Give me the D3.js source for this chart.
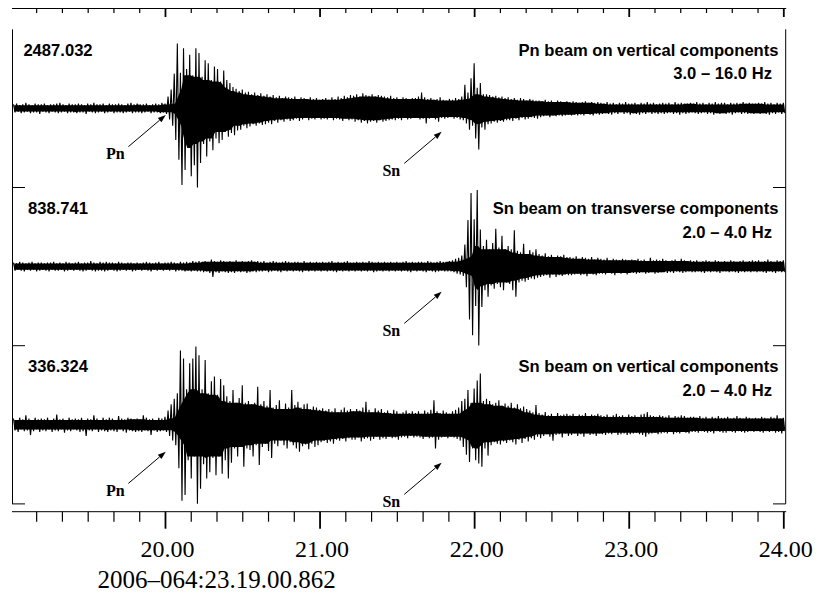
<!DOCTYPE html>
<html>
<head>
<meta charset="utf-8">
<script src="https://cdn.jsdelivr.net/npm/d3@7"></script>
<style>
  body { margin: 0; background: #fff; }
  svg { display: block; }
</style>
</head>
<body>
<svg id="chart" width="816" height="595"></svg>
<script>
// ---- Beam traces: per-sample peak (hi) and trough (lo), in % of each trace's peak amplitude ----
const sampleStart = 19.02;   // minutes
const sampleStep = 0.02;     // minutes

const pnVertHi = [
  5,6,4,5,7,5,4,6,5,5, 6,4,5,5,6,7,5,4,6,5, 5,6,5,4,6,5,7,5,5,6, 4,6,5,5,6,5,4,6,7,5,
  6,5,5,6,4,5,6,5,7,6, 15,24,44,82,45,76,50,68,42,76, 70,40,61,57,36,53,50,34,48,36,
  32,27,25,22,24,20,21,18,20,17, 19,16,18,15,17,14,16,13,15,14, 13,15,12,14,13,12,14,12,13,11,
  12,13,11,14,12,15,13,16,14,17, 16,18,15,19,17,16,18,15,17,16, 15,14,16,13,14,12,14,13,12,13,
  13,15,20,14,12,13,11,12,14,11, 10,12,11,13,12,15,30,20,38,57, 26,32,18,18,17,15,16,14,15,13,
  14,12,13,11,13,12,10,12,11,10, 10,9,11,9,10,8,10,9,8,9, 8,9,8,7,8,9,7,8,7,8,
  7,6,8,6,7,5,7,6,8,6, 6,7,5,7,6,8,6,7,5,6, 7,6,7,5,8,6,7,6,6,7, 6,8,6,7,5,7,6,8,6,7,
  7,5,7,6,7,6,8,6,7,6, 6,7,6,8,6,7,5,7,6,7
];
const pnVertLo = [
  -5,-4,-6,-5,-4,-6,-5,-5,-7,-4, -5,-6,-4,-5,-6,-5,-4,-6,-5,-5, -6,-5,-5,-7,-4,-5,-6,-5,-4,-6,
  -5,-4,-6,-5,-5,-6,-5,-4,-6,-5, -5,-6,-5,-4,-6,-5,-5,-6,-5,-7, -14,-22,-40,-65,-97,-78,-50,-86,-72,-100,
  -69,-45,-61,-42,-53,-38,-44,-40,-30,-36, -31,-34,-28,-27,-22,-25,-23,-20,-22,-19, -21,-20,-18,-20,-16,-18,-15,-17,-14,-16,
  -15,-13,-16,-14,-12,-15,-13,-14,-12,-14, -13,-14,-12,-15,-13,-14,-16,-13,-15,-14, -17,-15,-18,-16,-19,-17,-16,-18,-15,-17,
  -16,-15,-14,-15,-13,-15,-12,-14,-13,-12, -12,-14,-13,-19,-13,-12,-14,-17,-12,-13, -12,-11,-13,-12,-14,-15,-19,-27,-22,-38,
  -52,-24,-27,-20,-19,-17,-18,-16,-17,-15, -15,-16,-13,-15,-12,-14,-13,-11,-12,-13, -11,-10,-9,-11,-9,-10,-9,-10,-9,-8,
  -9,-8,-9,-8,-9,-7,-8,-9,-7,-8, -7,-6,-7,-8,-6,-7,-5,-7,-6,-8, -6,-7,-8,-6,-7,-5,-7,-6,-7,-6,
  -7,-6,-5,-7,-6,-8,-6,-7,-6,-5, -6,-7,-6,-5,-7,-6,-8,-6,-7,-6, -7,-6,-8,-6,-5,-7,-6,-7,-6,-7,
  -6,-7,-6,-7,-8,-6,-7,-5,-7,-6
];

const snTransHi = [
  5,4,6,5,4,5,6,4,5,5, 4,5,5,6,4,5,4,6,5,4, 5,6,4,5,5,7,5,4,6,5, 6,5,5,4,6,5,4,5,5,4,
  5,4,5,6,5,4,5,6,4,5, 5,6,5,4,6,5,6,5,7,6, 7,6,7,6,9,7,6,8,7,6, 7,6,8,6,7,6,7,8,6,7,
  6,7,5,6,7,6,5,6,7,6, 5,6,6,5,7,5,6,5,6,5, 6,5,6,7,5,6,5,6,7,5, 5,6,5,6,5,7,6,5,6,5,
  6,5,6,5,6,5,6,7,5,6, 5,6,6,5,7,6,5,6,7,6, 6,7,8,10,11,14,28,59,93,60, 97,47,26,34,22,30,48,24,39,22,
  26,22,46,20,18,29,16,21,18,22, 16,14,17,13,15,12,14,13,15,12, 12,11,13,10,12,11,10,12,9,11,
  10,9,11,8,10,9,8,10,9,8, 9,8,10,8,9,7,11,8,9,8, 10,8,7,8,9,7,10,8,7,8, 7,8,6,7,8,7,6,8,7,6,
  7,6,8,7,6,7,8,6,7,8, 7,8,6,7,9,7,6,8,7,8
];
const snTransLo = [
  -5,-4,-5,-6,-4,-5,-4,-6,-5,-4, -5,-6,-4,-5,-5,-4,-6,-5,-4,-5, -4,-5,-6,-5,-4,-5,-6,-5,-5,-6,
  -5,-4,-5,-6,-5,-4,-5,-4,-6,-5, -4,-5,-4,-5,-6,-4,-5,-4,-5,-4, -5,-4,-6,-5,-5,-6,-5,-6,-5,-6,
  -6,-7,-6,-8,-13,-7,-8,-6,-7,-8, -7,-8,-6,-7,-6,-8,-7,-6,-7,-6, -6,-5,-7,-6,-5,-6,-7,-5,-6,-5,
  -6,-5,-6,-7,-5,-6,-5,-6,-5,-6, -5,-6,-5,-6,-7,-5,-6,-5,-6,-5, -6,-5,-6,-5,-6,-5,-7,-6,-5,-6,
  -5,-6,-5,-6,-5,-6,-5,-6,-7,-5, -6,-5,-6,-7,-5,-6,-7,-6,-5,-6, -6,-6,-7,-9,-10,-12,-26,-67,-87,-50,
  -100,-51,-30,-38,-24,-28,-22,-26,-30,-20, -22,-30,-38,-20,-18,-19,-17,-15,-16,-14, -13,-12,-11,-14,-10,-13,-11,-12,-10,-11,
  -11,-10,-9,-11,-10,-12,-9,-10,-11,-9, -9,-10,-8,-9,-11,-8,-9,-8,-10,-8, -8,-9,-8,-7,-9,-8,-7,-9,-8,-7,
  -7,-8,-7,-8,-6,-7,-8,-7,-6,-7, -7,-6,-7,-8,-6,-7,-6,-7,-8,-6, -6,-7,-6,-7,-8,-6,-7,-6,-7,-6,
  -7,-6,-7,-8,-6,-7,-8,-6,-7,-7
];

const snVertHi = [
  8,6,9,7,12,8,6,9,7,8, 7,9,6,8,13,7,8,6,9,7, 8,7,9,6,8,7,12,8,6,9, 7,9,8,6,11,8,7,9,8,7,
  8,7,12,9,7,8,6,9,8,10, 18,26,33,40,94,84,45,78,84,99, 88,45,82,40,55,61,38,58,50,36,
  30,44,28,34,50,28,30,26,28,48, 26,30,24,44,22,25,31,20,27,22, 44,25,29,22,26,27,20,23,22,19,
  21,18,20,17,21,16,19,22,18,20, 17,20,18,22,29,19,16,21,18,20, 16,18,15,19,17,14,16,18,15,17,
  15,17,14,18,16,19,31,17,15,18, 16,14,17,19,22,30,33,44,28,46, 56,65,30,33,30,26,28,31,24,27,
  24,28,22,26,21,23,20,18,16,25, 15,13,16,12,14,11,15,12,13,14, 12,14,11,13,12,15,11,13,12,14,
  12,11,13,10,12,14,11,12,10,13, 11,12,10,13,14,16,12,11,10,12, 11,10,12,9,11,10,12,11,9,10,
  10,9,11,9,10,8,10,9,11,9, 9,10,8,9,11,9,8,10,9,8, 9,8,10,9,8,10,9,12,8,9
];
const snVertLo = [
  -7,-9,-6,-8,-7,-13,-8,-6,-9,-7, -8,-6,-9,-7,-8,-6,-10,-7,-8,-6, -7,-9,-8,-14,-7,-8,-6,-9,-7,-8,
  -9,-7,-8,-9,-6,-8,-10,-7,-8,-9, -8,-9,-7,-8,-13,-7,-9,-8,-7,-9, -14,-20,-26,-55,-96,-89,-45,-68,-40,-100,
  -81,-50,-68,-60,-42,-64,-40,-62,-45,-68, -48,-30,-40,-28,-53,-30,-32,-40,-26,-51, -28,-24,-33,-42,-24,-27,-20,-26,-30,-22,
  -26,-30,-34,-27,-25,-31,-24,-28,-26,-22, -20,-23,-21,-24,-19,-20,-18,-21,-17,-19, -19,-16,-21,-18,-17,-20,-18,-15,-19,-17,
  -18,-15,-17,-16,-19,-16,-15,-17,-14,-16, -15,-16,-18,-15,-17,-16,-30,-19,-16,-15, -17,-15,-16,-18,-20,-28,-38,-47,-30,-45,
  -49,-53,-30,-39,-26,-22,-24,-25,-21,-23, -20,-22,-25,-19,-23,-18,-21,-17,-19,-15, -17,-14,-12,-15,-20,-13,-12,-16,-11,-14,
  -13,-11,-14,-12,-15,-11,-13,-12,-14,-11, -12,-13,-11,-12,-10,-13,-12,-11,-13,-12, -11,-10,-12,-13,-15,-12,-11,-10,-12,-11,
  -10,-11,-9,-12,-10,-11,-9,-10,-11,-9, -9,-10,-8,-9,-10,-9,-11,-8,-9,-10, -10,-8,-9,-10,-8,-9,-10,-9,-8,-9,
  -8,-9,-10,-8,-9,-8,-10,-9,-11,-8
];

// ---- Trace annotations ----
const peakLabels = ["2487.032", "838.741", "336.324"];
const beamTitles = ["Pn beam on vertical components", "Sn beam on transverse components", "Sn beam on vertical components"];
const bandLabels = ["3.0 \u2013 16.0 Hz", "2.0 \u2013 4.0 Hz", "2.0 \u2013 4.0 Hz"];
const phaseTrace = [0, 0, 1, 2, 2];
const phaseNames = ["Pn", "Sn", "Sn", "Pn", "Sn"];
const phaseTimes = [20.005, 21.79, 21.79, 20.005, 21.79];

// ---- Time axis ----
const majorTicks = [20, 21, 22, 23, 24];
const majorTickLabels = ["20.00", "21.00", "22.00", "23.00", "24.00"];
const startTimeLabel = "2006\u2013064:23.19.00.862";

const traces = [
  { hi: pnVertHi, lo: pnVertLo },
  { hi: snTransHi, lo: snTransLo },
  { hi: snVertHi, lo: snVertLo }
];

// ---- Layout ----
const frameLeft = 12, frameRight = 785.7;
const panelTop = 29.3, panelH = 158.2;
const halfAmp = 79;
const arrowDrop = [6.6, 23.3, 25.1, 26.9, 37.9];   // arrow tip below trace centre, px
const arrowVec = [37.4, -31.7];
const coreWindow = 3;   // neighbours on each side used for the solid core

const svg = d3.select("#chart");
const sans = "'Liberation Sans', Arial, Helvetica, sans-serif";
const serif = "'Liberation Serif', 'Times New Roman', Times, serif";

const x = d3.scaleLinear().domain([19.0104, 24]).range([12, 783.3]);

const panels = traces.map((tr, k) => {
  const top = panelTop + k * panelH;
  const mid = top + panelH / 2;
  const y = d3.scaleLinear().domain([-100, 100]).range([mid + halfAmp, mid - halfAmp]);
  return { top, mid, y };
});

// Frame: side rails with inward ticks at each panel's lower edge
const frame = svg.append("g").attr("stroke", "#000").attr("stroke-width", 1).attr("fill", "none");
const frameBottom = panelTop + 3 * panelH;
frame.append("line").attr("x1", frameLeft + 0.5).attr("x2", frameLeft + 0.5).attr("y1", panelTop).attr("y2", frameBottom);
frame.append("line").attr("x1", frameRight).attr("x2", frameRight).attr("y1", panelTop).attr("y2", frameBottom);
panels.forEach(p => {
  const yb = p.top + panelH;
  frame.append("line").attr("x1", frameLeft).attr("x2", frameLeft + 13).attr("y1", yb).attr("y2", yb);
  frame.append("line").attr("x1", frameRight - 12.7).attr("x2", frameRight).attr("y1", yb).attr("y2", yb);
});

// Waveforms: dense core (smallest swing among neighbouring samples) plus the full wiggle
traces.forEach((tr, k) => {
  const p = panels[k];
  const n = tr.hi.length;
  const samples = tr.hi.map((v, i) => {
    const a = Math.max(0, i - coreWindow), b = Math.min(n, i + coreWindow + 1);
    return {
      t: sampleStart + i * sampleStep,
      hi: v, lo: tr.lo[i],
      coreHi: d3.min(tr.hi.slice(a, b)),
      coreLo: d3.max(tr.lo.slice(a, b))
    };
  });

  const core = d3.area()
    .x(d => x(d.t + sampleStep / 4))
    .y1(d => p.y(d.coreHi))
    .y0(d => p.y(d.coreLo));
  svg.append("path")
    .attr("d", core(samples))
    .attr("fill", "#000");

  const pts = [];
  samples.forEach(d => { pts.push([d.t, d.hi]); pts.push([d.t + sampleStep / 2, d.lo]); });
  const line = d3.line().x(d => x(d[0])).y(d => p.y(d[1]));
  svg.append("path")
    .attr("d", line(pts))
    .attr("fill", "none")
    .attr("stroke", "#000")
    .attr("stroke-width", 1.1)
    .attr("stroke-linejoin", "miter")
    .attr("stroke-miterlimit", 3);

  svg.append("text")
    .attr("x", 58).attr("y", p.top + 26.5)
    .attr("text-anchor", "middle")
    .attr("font-family", sans).attr("font-weight", "bold").attr("font-size", 16.6)
    .text(peakLabels[k]);
  svg.append("text")
    .attr("x", 778.5).attr("y", p.top + 26.5)
    .attr("text-anchor", "end")
    .attr("font-family", sans).attr("font-weight", "bold").attr("font-size", 16.6)
    .text(beamTitles[k]);
  svg.append("text")
    .attr("x", 772).attr("y", p.top + 50)
    .attr("text-anchor", "end")
    .attr("font-family", sans).attr("font-weight", "bold").attr("font-size", 16.6)
    .text(bandLabels[k]);
});

// Phase arrows and names
phaseNames.forEach((name, j) => {
  const p = panels[phaseTrace[j]];
  const tx = x(phaseTimes[j]);
  const ty = p.mid + arrowDrop[j];
  const sx = tx - arrowVec[0], sy = ty - arrowVec[1];
  const ang = Math.atan2(ty - sy, tx - sx);
  const L = 8, W = 2.8;
  const bx = tx - L * Math.cos(ang), by = ty - L * Math.sin(ang);
  svg.append("line")
    .attr("x1", sx).attr("y1", sy).attr("x2", bx).attr("y2", by)
    .attr("stroke", "#000").attr("stroke-width", 1);
  svg.append("polygon")
    .attr("points", [
      [tx, ty],
      [bx + W * Math.sin(ang), by - W * Math.cos(ang)],
      [bx - W * Math.sin(ang), by + W * Math.cos(ang)]
    ].map(d => d.join(",")).join(" "))
    .attr("fill", "#000");
  svg.append("text")
    .attr("x", sx - 13).attr("y", sy + 12.3)
    .attr("text-anchor", "middle")
    .attr("font-family", serif).attr("font-weight", "bold").attr("font-size", 16)
    .text(name);
});

// Time axes (top and bottom), minor ticks every 10 s
const minorTicks = d3.range(1, 31).map(i => 19 + i / 6).filter(v => !majorTicks.some(m => Math.abs(m - v) < 1e-6));

function timeAxis(yLine, minorLen, majorLen, withLabels) {
  const g = svg.append("g");
  g.append("line").attr("x1", frameLeft).attr("x2", frameRight + 0.5)
    .attr("y1", yLine).attr("y2", yLine).attr("stroke", "#000").attr("stroke-width", 1);
  const gMinor = g.append("g").attr("transform", `translate(0,${yLine})`)
    .call(d3.axisBottom(x).tickValues(minorTicks).tickSize(minorLen).tickSizeOuter(0).tickFormat(""));
  gMinor.select(".domain").remove();
  gMinor.selectAll(".tick line").attr("stroke", "#000").attr("stroke-width", 1.2);
  const gMajor = g.append("g").attr("transform", `translate(0,${yLine})`)
    .call(d3.axisBottom(x).tickValues(majorTicks).tickSize(majorLen).tickSizeOuter(0)
      .tickFormat((d, i) => withLabels ? majorTickLabels[i] : ""));
  gMajor.select(".domain").remove();
  gMajor.selectAll(".tick line").attr("stroke", "#000").attr("stroke-width", 1.8);
  gMajor.selectAll(".tick text")
    .attr("y", 45.2).attr("dy", null).attr("dx", 2)
    .attr("fill", "#000")
    .attr("font-family", serif).attr("font-size", 24);
  return g;
}
timeAxis(8.5, 4.5, 8.5, false);
timeAxis(511.7, 10, 17, true);

svg.append("text")
  .attr("x", 216.7).attr("y", 588)
  .attr("text-anchor", "middle")
  .attr("font-family", serif).attr("font-size", 25)
  .text(startTimeLabel);
</script>
</body>
</html>
